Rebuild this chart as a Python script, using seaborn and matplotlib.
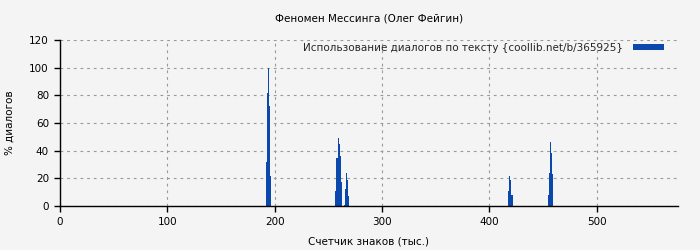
import matplotlib
matplotlib.use("Agg")
import matplotlib.pyplot as plt
from matplotlib.patches import Patch
import seaborn as sns

# Data (thousands of characters -> % dialogues)
positions = [192, 193, 194, 195, 196,
             257, 258, 259, 260, 261, 262,
             265, 266, 267, 268, 269,
             418, 419, 420, 421,
             455, 456, 457, 458, 459]
percent = [32, 82, 100, 72, 22,
           11, 35, 49, 45, 36, 17,
           1, 12, 24, 19, 7,
           11, 22, 19, 8,
           8, 24, 46, 38, 23]

title = "Феномен Мессинга (Олег Фейгин)"
legend_label = "Использование диалогов по тексту {coollib.net/b/365925}"
xlabel = "Счетчик знаков (тыс.)"
ylabel = "% диалогов"
xticks = [0, 100, 200, 300, 400, 500]
yticks = [0, 20, 40, 60, 80, 100, 120]

sns.set_theme(style="white")
plt.rcParams['font.family'] = ['DejaVu Sans']
bg = "#f4f4f4"
bar_color = "#0a48ae"
fs = 7.5

fig = plt.figure(figsize=(7, 2.5), dpi=100, facecolor=bg)
ax = fig.add_axes([60/700, 44/250, 618/700, 166/250])
ax.set_facecolor(bg)

sns.histplot(x=positions, weights=percent, discrete=True, shrink=1.0,
             color=bar_color, alpha=1, linewidth=0, element="bars",
             fill=True, ax=ax, zorder=3)

ax.set_xlim(0, 575.6)
ax.set_ylim(0, 120)
ax.set_xticks(xticks)
ax.set_yticks(yticks)
ax.tick_params(axis="both", which="both", direction="out", length=4,
               width=1, colors="black", labelsize=fs, pad=4,
               bottom=True, left=True)
for s in ["top", "right"]:
    ax.spines[s].set_visible(False)
for s in ["left", "bottom"]:
    ax.spines[s].set_color("black")
    ax.spines[s].set_linewidth(1)
    ax.spines[s].set_zorder(4)

ax.grid(True, color="#999999", linewidth=0.8, linestyle=(0, (2.5, 3.5)), zorder=0)
ax.set_axisbelow(True)

ax.set_title(title, fontsize=fs, pad=13.5, color="black")
ax.set_xlabel(xlabel, fontsize=fs, labelpad=6.5, color="black")
ax.set_ylabel(ylabel, fontsize=fs, labelpad=10.5, color="black")

handle = Patch(facecolor=bar_color, edgecolor="none")
ax.legend([handle], [legend_label], loc="upper right", frameon=False,
          markerfirst=False, fontsize=fs, handlelength=2.9, handleheight=0.55,
          handletextpad=1.0, borderaxespad=0.0, bbox_to_anchor=(0.9835, 1.008))

fig.savefig("out.png", dpi=100, facecolor=bg)
